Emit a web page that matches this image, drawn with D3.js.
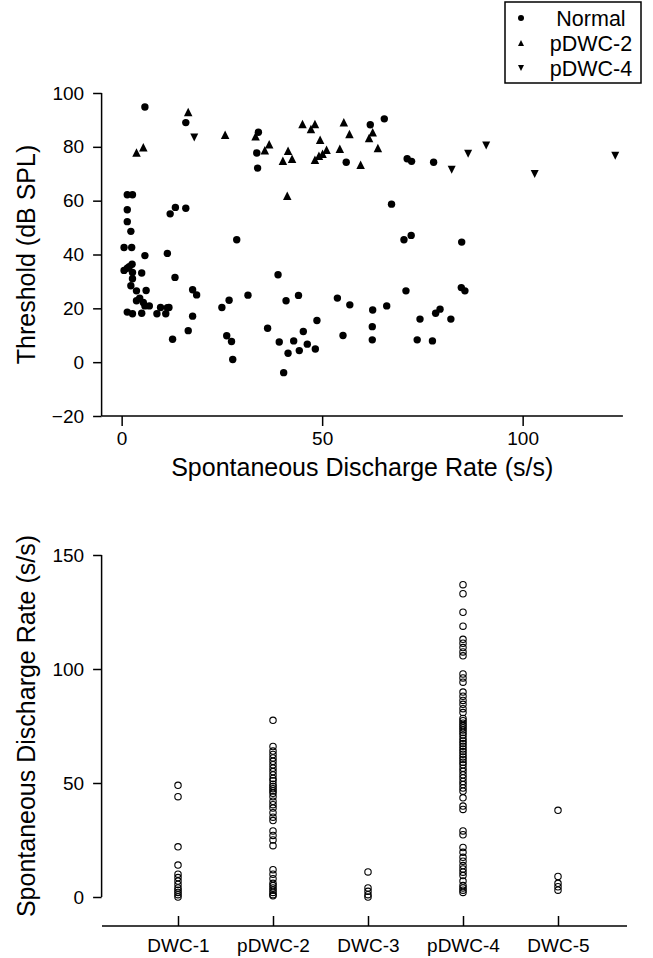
<!DOCTYPE html>
<html>
<head>
<meta charset="utf-8">
<script src="https://cdn.jsdelivr.net/npm/d3@7"></script>
<style>
body { margin: 0; background: #fff; }
svg text { font-family: "Liberation Sans", Arial, sans-serif; fill: #000; }
.axis path, .axis line { stroke: #000; stroke-width: 1.5; }
</style>
</head>
<body>
<div id="chart"></div>
<script>
// top panel: [rate s/s, threshold dB SPL]
var normalPts = [[5.8,94.8],[16,89],[34.1,85.4],[33.7,77.7],[33.9,72.1],[62,88.2],[65.5,90.4],[56,74.3],[71.2,75.6],[72.3,74.6],[77.8,74.3],
  [1.4,62.2],[2.7,62.2],[1.4,56.6],[1.4,52.2],[2.3,48.6],[12.1,55.1],[13.4,57.5],[16,57.2],[28.7,45.5],[0.6,42.6],[2.5,42.6],
  [5.8,39.6],[11.4,40.4],[0.6,34.1],[1.4,34.9],[1.9,35.5],[2.6,36.4],[2.7,33.3],[5,33.1],[2.7,31],[13.3,31.5],[2.3,28.4],
  [3.7,26.5],[6.1,26.6],[17.7,26.9],[18.7,25],[4.5,23.8],[3.7,22.8],[5.4,22.2],[5.8,20.9],[6.9,20.9],[9.7,20.3],[11.4,20.2],
  [11.8,20.3],[1.4,18.6],[2.7,18],[5,18.2],[8.8,18],[11,18],[17.7,17.1],[12.7,8.5],[16.6,11.7],[25,20.3],[26.8,23],
  [31.5,24.9],[26.2,9.8],[27.4,7.7],[27.7,1],[36.4,12.6],[39,32.5],[41,22.8],[39.3,7.5],[41.5,3.3],[40.4,-3.9],
  [67.3,58.7],[70.4,45.5],[72.2,47.1],[84.8,44.6],[44.1,24.8],[42.9,7.9],[45.3,11.4],[44.3,4.3],[46.3,6.7],[48.3,4.9],
  [48.7,15.5],[53.8,23.8],[56.9,21.3],[55.2,9.9],[62.6,19.4],[66.1,20.9],[62.5,13.2],[62.5,8.3],[70.9,26.5],[74.4,16],
  [73.7,8.3],[77.5,7.9],[78.3,18.2],[79.4,19.7],[82.1,16],[84.7,27.7],[85.6,26.5]];
var pdwc2Pts = [[3.7,77.9],[5.4,79.8],[16.6,92.9],[25.8,84.5],[33.4,83.9],[35.7,78.7],[36.8,81],[40.2,74.8],[41.5,78.5],
  [41.3,61.8],[42.5,75.6],[45.1,88.5],[47.2,86.6],[48.2,88.5],[49.5,82.6],[55.4,89.1],[56.8,84.8],[62.6,85.4],[61.7,83.3],
  [63.9,79.6],[48.2,75.2],[49.2,76.7],[50.1,77.4],[51.1,78.9],[54.4,79.3],[59.6,73.3]];
var pdwc4Pts = [[18.1,83.5],[82.3,71.5],[86.4,77.4],[90.9,80.5],[103,69.9],[123.1,76.7]];
var legendLabels = ["Normal", "pDWC-2", "pDWC-4"];
var topXTicks = [0, 50, 100];
var topYTicks = [-20, 0, 20, 40, 60, 80, 100];

// bottom panel: spontaneous rate per group
var groups = ["DWC-1", "pDWC-2", "DWC-3", "pDWC-4", "DWC-5"];
var dwc1Rates = [49, 44, 22, 14, 10, 8.5, 7, 5.5, 4, 3, 2, 1, 0];
var pdwc2Rates = [77.5, 66, 64, 62.5, 61, 59.5, 58, 56.5, 55, 53.5, 52, 51, 49.5, 48.5, 47.5, 46.5, 45.5, 44, 42, 40.5,
  39, 37, 35, 33.5, 29, 27, 25, 22.5, 12, 10, 8, 6, 5, 4, 3, 2, 1, 0.5];
var dwc3Rates = [11, 4, 2.5, 1, 0];
var pdwc4Rates = [137, 133, 124.9, 118.8, 113, 111.3, 109.4, 107.5, 105.8, 97.8, 96.1, 94.2, 89.9, 88.1, 86.2, 84.5,
  82.6, 80.9, 78.3, 77.3, 76.2, 75.2, 74.2, 73.2, 72.2, 71, 69.6, 68.4, 67.3, 66.1, 64.9, 63.8, 62.6, 61.4, 60.3, 59.1,
  58, 56.5, 55.1, 53.6, 52.2, 50.7, 49.3, 47.8, 46.4, 43.5, 39.9, 38.4, 29, 27.3, 21.7, 19.6, 17.4, 15.7, 13.8, 12.3,
  10.9, 9.4, 7, 5, 4, 3, 2];
var dwc5Rates = [38, 9, 6, 4.5, 3];
var groupRates = [dwc1Rates, pdwc2Rates, dwc3Rates, pdwc4Rates, dwc5Rates];
var bottomYTicks = [0, 50, 100, 150];

var svgWidth = 653, svgHeight = 958;
var svg = d3.select("#chart").append("svg")
  .attr("width", svgWidth)
  .attr("height", svgHeight);

var font = 19, titleFont = 25;

// ---------- top scatter ----------
var x = d3.scaleLinear().domain([-5, 125]).range([101.6, 622.9]);
var y = d3.scaleLinear().domain([-20, 100]).range([416, 93]);

var xg = svg.append("g").attr("class", "axis").attr("transform", `translate(0,${y(-20)})`);
xg.call(d3.axisBottom(x).tickValues(d3.range(-5, 126, 5)).tickSize(5).tickFormat(""));
xg.call(d3.axisBottom(x).tickValues(topXTicks).tickSize(10).tickPadding(6));
xg.selectAll(".domain").remove();
xg.append("line").attr("x1", x(-5)).attr("x2", x(125));
xg.selectAll("text").style("font-size", font + "px");

var yg = svg.append("g").attr("class", "axis").attr("transform", `translate(${x(-5)},0)`);
yg.call(d3.axisLeft(y).tickValues(d3.range(-20, 101, 5)).tickSize(4.5).tickFormat(""));
yg.call(d3.axisLeft(y).tickValues(topYTicks).tickSize(8.5).tickPadding(9));
yg.selectAll(".domain").remove();
yg.append("line").attr("y1", y(-20)).attr("y2", y(100));
yg.selectAll("text").style("font-size", font + "px");

svg.append("text")
  .attr("x", (x(-5) + x(125)) / 2).attr("y", 476)
  .attr("text-anchor", "middle").style("font-size", titleFont + "px")
  .text("Spontaneous Discharge Rate (s/s)");
svg.append("text")
  .attr("transform", `translate(35,${(y(-20) + y(100)) / 2}) rotate(-90)`)
  .attr("text-anchor", "middle").style("font-size", titleFont + "px")
  .text("Threshold (dB SPL)");

function triPath(size, up) {
  var h = size / 2;
  return up ? `M0,${-h}L${h},${h}L${-h},${h}Z` : `M0,${h}L${h},${-h}L${-h},${-h}Z`;
}

svg.append("g").selectAll("circle").data(normalPts).enter().append("circle")
  .attr("cx", d => x(d[0])).attr("cy", d => y(d[1]))
  .attr("r", 3.7).attr("fill", "#000");
svg.append("g").selectAll("path").data(pdwc2Pts).enter().append("path")
  .attr("d", triPath(8.5, true))
  .attr("transform", d => `translate(${x(d[0])},${y(d[1])})`)
  .attr("fill", "#000");
svg.append("g").selectAll("path").data(pdwc4Pts).enter().append("path")
  .attr("d", triPath(8, false))
  .attr("transform", d => `translate(${x(d[0])},${y(d[1])})`)
  .attr("fill", "#000");

// legend
var legend = svg.append("g");
legend.append("rect").attr("x", 505).attr("y", 2).attr("width", 136).attr("height", 81)
  .attr("fill", "none").attr("stroke", "#000").attr("stroke-width", 1.5);
legendLabels.forEach(function(lab, i) {
  var cy = 18 + i * 25;
  if (i === 0) legend.append("circle").attr("cx", 521).attr("cy", cy).attr("r", 3);
  else legend.append("path").attr("d", triPath(6, i === 1)).attr("transform", `translate(521,${cy})`);
  legend.append("text").attr("x", 591).attr("y", cy).attr("dy", "0.35em")
    .attr("text-anchor", "middle").style("font-size", "21.5px").text(lab);
});

// ---------- bottom strip plot ----------
var gx = d3.scalePoint().domain(groups).range([178, 558]);
var gy = d3.scaleLinear().domain([0, 150]).range([897, 555]);

var bx = svg.append("g").attr("class", "axis").attr("transform", "translate(0,926)");
bx.call(d3.axisBottom(gx).tickSizeInner(-10).tickSizeOuter(0).tickPadding(13));
bx.selectAll(".domain").remove();
bx.append("line").attr("x1", 102).attr("x2", 627);
bx.selectAll("text").style("font-size", font + "px");

var by = svg.append("g").attr("class", "axis").attr("transform", `translate(${x(-5)},0)`);
by.call(d3.axisLeft(gy).tickValues(d3.range(0, 151, 10)).tickSize(4.5).tickFormat(""));
by.call(d3.axisLeft(gy).tickValues(bottomYTicks).tickSize(8.5).tickPadding(9));
by.selectAll(".domain").remove();
by.append("line").attr("y1", gy(0)).attr("y2", gy(150));
by.selectAll("text").style("font-size", font + "px");

svg.append("text")
  .attr("transform", `translate(35,${(gy(0) + gy(150)) / 2}) rotate(-90)`)
  .attr("text-anchor", "middle").style("font-size", titleFont + "px")
  .text("Spontaneous Discharge Rate (s/s)");

groups.forEach(function(g, i) {
  svg.append("g").selectAll("circle").data(groupRates[i]).enter().append("circle")
    .attr("cx", gx(g)).attr("cy", d => gy(d))
    .attr("r", 3.2).attr("fill", "none").attr("stroke", "#000").attr("stroke-width", 1.1);
});
</script>
</body>
</html>
